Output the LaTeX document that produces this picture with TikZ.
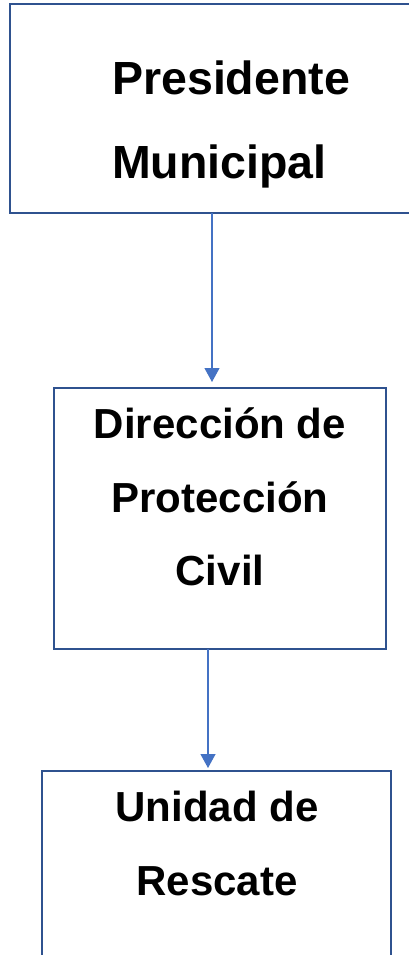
\documentclass[tikz,border=0pt]{standalone}
\usepackage{fontspec}
\setmainfont{Liberation Sans}
\usetikzlibrary{arrows.meta}
\definecolor{boxblue}{HTML}{2F528F}
\definecolor{arrowblue}{HTML}{4472C4}
\tikzset{
  orgbox/.style={draw=boxblue, rectangle, inner sep=0pt, outer sep=0pt, anchor=north west},
  bigtxt/.style={inner sep=0pt, font=\fontsize{46.5}{50}\selectfont\bfseries},
  midtxt/.style={inner sep=0pt, font=\fontsize{42}{46}\selectfont\bfseries, anchor=base},
  link/.style={draw=arrowblue, line width=1.2pt, -{Triangle[width=15pt,length=14pt]}}
}
\begin{document}
\begin{tikzpicture}[x=1pt,y=-1pt]
\useasboundingbox (0,0) rectangle (409,955);
% boxes
\node[orgbox, line width=2.5pt, minimum width=404pt, minimum height=209pt] (pres) at (10,4) {};
\node[orgbox, line width=1.6pt, minimum width=332pt, minimum height=261pt] (dir) at (54,388) {};
\node[orgbox, line width=2pt, minimum width=349pt, minimum height=200pt] (uni) at (42,771) {};
% texts
\node[bigtxt, anchor=base west] (t1) at (112,95) {Presidente};
\node[bigtxt, anchor=base west] (t2) at (112,178) {Municipal};
\node[midtxt] (t3) at (220,438) {Dirección de};
\node[midtxt] (t4) at (220,512) {Protección};
\node[midtxt] (t5) at (220,585) {Civil};
\node[midtxt] (t6) at (217,821) {Unidad de};
\node[midtxt] (t7) at (217,895) {Rescate};
% connectors
\draw[link, shorten >=6pt] (pres.south) -- (pres.south |- dir.north);
\draw[link, shorten >=3pt] ([xshift=-12pt]dir.south) -- ([xshift=-12pt]dir.south |- uni.north);
\end{tikzpicture}
\end{document}
